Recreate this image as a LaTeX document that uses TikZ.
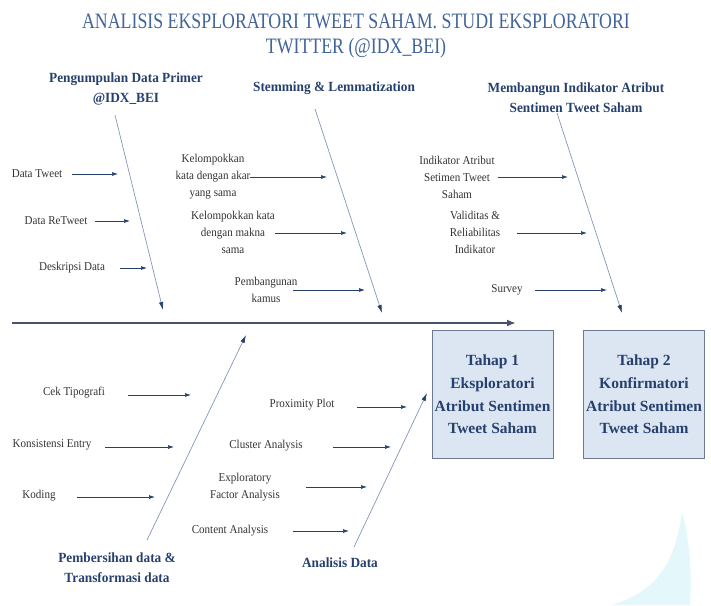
\documentclass[tikz,border=0pt]{standalone}
\usepackage{fontspec}
\setmainfont{Liberation Serif}
\newfontfamily\titlefont{Liberation Serif}[FakeStretch=0.81]
\newfontfamily\katfont{Liberation Serif}[FakeStretch=0.95]
\newfontfamily\isifont{Liberation Serif}[FakeStretch=0.92]
\usepackage{tikz}
\usetikzlibrary{positioning}
\usetikzlibrary{arrows.meta}

\definecolor{judul}{HTML}{41649A}
\definecolor{navy}{HTML}{26406E}
\definecolor{warnatulang}{HTML}{8296BA}
\definecolor{kotak}{HTML}{DCE6F2}
\definecolor{bingkai}{HTML}{6B7A90}
\definecolor{warnaporos}{HTML}{44546A}
\definecolor{noda}{HTML}{D2F4F8}

\tikzset{
    teks/.style={align=center, inner sep=0pt, text=black!80,
        font=\isifont\fontsize{12}{17}\selectfont},
    kategori/.style={align=center, inner sep=0pt, text=navy,
        font=\katfont\bfseries\fontsize{14}{20}\selectfont},
    judulbaris/.style={anchor=base, inner sep=0pt, text=judul,
        font=\titlefont\fontsize{22}{25}\selectfont},
    cabang/.style={navy, line width=0.7pt, -{Latex[length=6pt,width=4pt]}},
    tulang/.style={warnatulang, line width=0.7pt, -{Latex[length=8pt,width=4.5pt,color=navy]}},
    tahap/.style={draw=bingkai, fill=kotak, line width=0.9pt, align=center,
        minimum width=121pt, minimum height=128pt, inner sep=0pt, text=navy,
        font=\bfseries\fontsize{15.5}{22.7}\selectfont}
}

\begin{document}
\begin{tikzpicture}[x=1pt,y=-1pt]
    \useasboundingbox (0,0) rectangle (711,605);

    % noda latar
    \fill[noda, opacity=0.6] (612,605) .. controls (660,590) and (675,560) .. (682,512)
        .. controls (690,540) and (692,575) .. (690,605) -- cycle;

    % judul
    \node[judulbaris] (judul1) at (356,28) {ANALISIS EKSPLORATORI TWEET SAHAM. STUDI EKSPLORATORI};
    \node[judulbaris] (judul2) at (356,53) {TWITTER (@IDX\_BEI)};

    % kategori
    \node[kategori] (k1) at (126,89) {Pengumpulan Data Primer\\@IDX\_BEI};
    \node[kategori] (k2) at (334,88) {Stemming \& Lemmatization};
    \node[kategori] (k3) at (576,98) {Membangun Indikator Atribut\\Sentimen Tweet Saham};
    \node[kategori] (k4) at (117,568) {Pembersihan data \&\\Transformasi data};
    \node[kategori] (k5) at (340,563) {Analisis Data};

    % poros utama
    \coordinate (p1) at (12,323);
    \coordinate (p2) at (516,323);
    \draw[warnaporos, line width=2.6pt, -{Latex[length=9pt,width=7pt]}] (p1) -- (p2);

    % tulang
    \foreach \nm/\xa/\ya/\xb/\yb in {t1/115/115/163/310, t2/315/109/382/313,
        t3/557/113/622/313, t4/147/540/246/335, t5/354/547/427/393}
    {
        \coordinate (\nm a) at (\xa,\ya);
        \coordinate (\nm b) at (\xb,\yb);
        \draw[tulang] (\nm a) -- (\nm b);
    }

    % sebab
    \foreach \nm/\x/\y/\isi/\ay/\ax/\bx in {
        dt/37/174/{Data Tweet}/174/72/118,
        drt/56/221/{Data ReTweet}/221/95/130,
        dd/72/268/{Deskripsi Data}/268/120/147,
        ka/213/177/{Kelompokkan\\kata dengan akar\\yang sama}/177/250/327,
        km/233/232/{Kelompokkan kata\\dengan makna\\sama}/233/275/347,
        pk/266/290/{Pembangunan\\kamus}/290/293/365,
        ia/457/177/{Indikator Atribut\\Setimen Tweet\\Saham}/177/498/568,
        vr/475/232/{Validitas \&\\Reliabilitas\\Indikator}/233/517/587,
        sv/507/290/{Survey}/290/535/607,
        ct/74/393/{Cek Tipografi}/395/128/191,
        ke/52/445/{Konsistensi Entry}/447/105/174,
        kd/39/496/{Koding}/497/77/155,
        pp/302/405/{Proximity Plot}/407/357/407,
        ca/266/446/{Cluster Analysis}/447/333/391,
        ef/245/487/{Exploratory\\Factor Analysis}/487/306/367,
        cn/230/531/{Content Analysis}/531/293/349}
    {
        \node[teks] (\nm) at (\x,\y) {\isi};
        \coordinate (\nm-a) at (\ax,\ay);
        \coordinate (\nm-b) at (\bx,\ay);
        \draw[cabang] (\nm-a) -- (\nm-b);
    }

    % tahap
    \node[tahap] (tahap1) at (492.5,394.5) {Tahap 1\\Eksploratori\\Atribut Sentimen\\Tweet Saham};
    \node[tahap] (tahap2) at (644,394.5) {Tahap 2\\Konfirmatori\\Atribut Sentimen\\Tweet Saham};
\end{tikzpicture}
\end{document}
